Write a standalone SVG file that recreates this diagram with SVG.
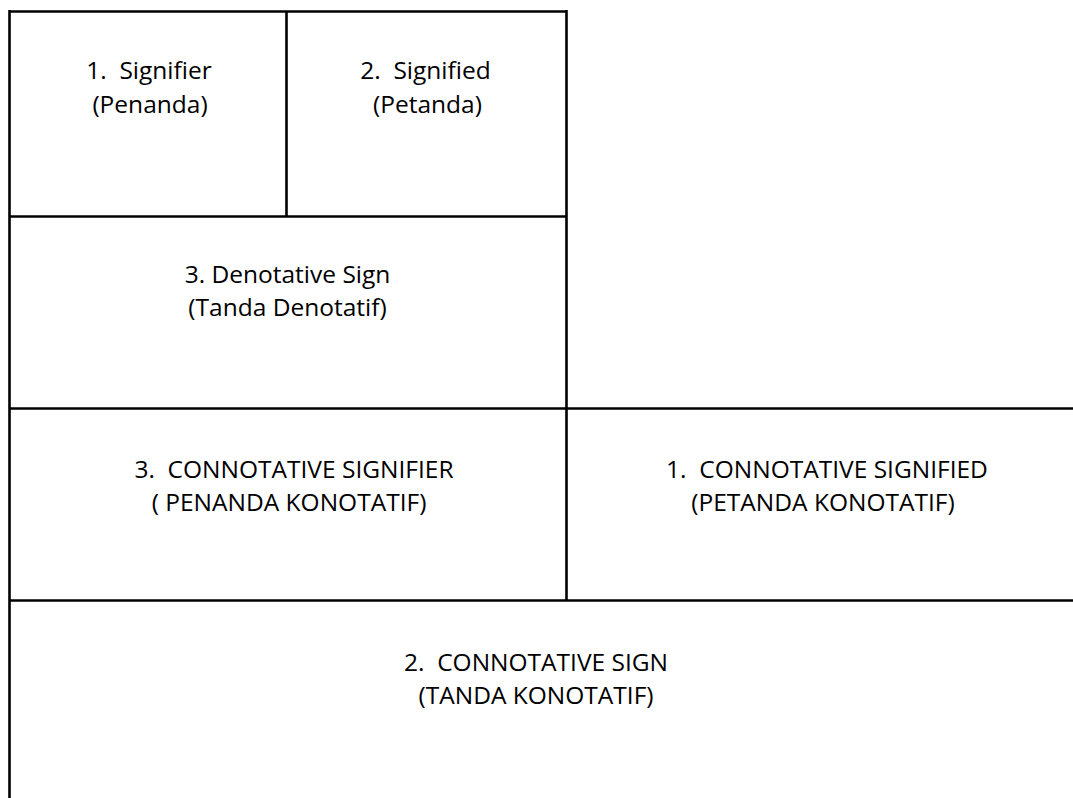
<svg xmlns="http://www.w3.org/2000/svg" width="1073" height="798" viewBox="0 0 1073 798">
<style>
.line{stroke:#000;stroke-width:2.6;fill:none}
text{font-family:"Open Sans","Noto Sans",sans-serif;font-size:24.5px;fill:#000;text-anchor:middle;white-space:pre}
</style>
<rect width="1073" height="798" fill="#fff"/>
<g id="connectors">
<line class="line" x1="9.5" y1="11.5" x2="566.5" y2="11.5"/>
<line class="line" x1="9.5" y1="10" x2="9.5" y2="798"/>
<line class="line" x1="286.5" y1="11.5" x2="286.5" y2="216.5"/>
<line class="line" x1="566.5" y1="10" x2="566.5" y2="600.5"/>
<line class="line" x1="9.5" y1="216.5" x2="566.5" y2="216.5"/>
<line class="line" x1="9.5" y1="408.5" x2="1073" y2="408.5"/>
<line class="line" x1="9.5" y1="600.5" x2="1073" y2="600.5"/>
</g>
<g id="signifier">
<text x="149" y="79" xml:space="preserve">1.  Signifier</text>
<text x="150" y="113">(Penanda)</text>
</g>
<g id="signified">
<text x="425.5" y="79" xml:space="preserve">2.  Signified</text>
<text x="427.5" y="113">(Petanda)</text>
</g>
<g id="denotative-sign">
<text x="287.5" y="283">3. Denotative Sign</text>
<text x="287.5" y="316">(Tanda Denotatif)</text>
</g>
<g id="connotative-signifier">
<text x="294" y="478" xml:space="preserve">3.  CONNOTATIVE SIGNIFIER</text>
<text x="289" y="511">( PENANDA KONOTATIF)</text>
</g>
<g id="connotative-signified">
<text x="827" y="478" xml:space="preserve">1.  CONNOTATIVE SIGNIFIED</text>
<text x="823" y="511">(PETANDA KONOTATIF)</text>
</g>
<g id="connotative-sign">
<text x="536" y="671" xml:space="preserve">2.  CONNOTATIVE SIGN</text>
<text x="536" y="704">(TANDA KONOTATIF)</text>
</g>
</svg>
